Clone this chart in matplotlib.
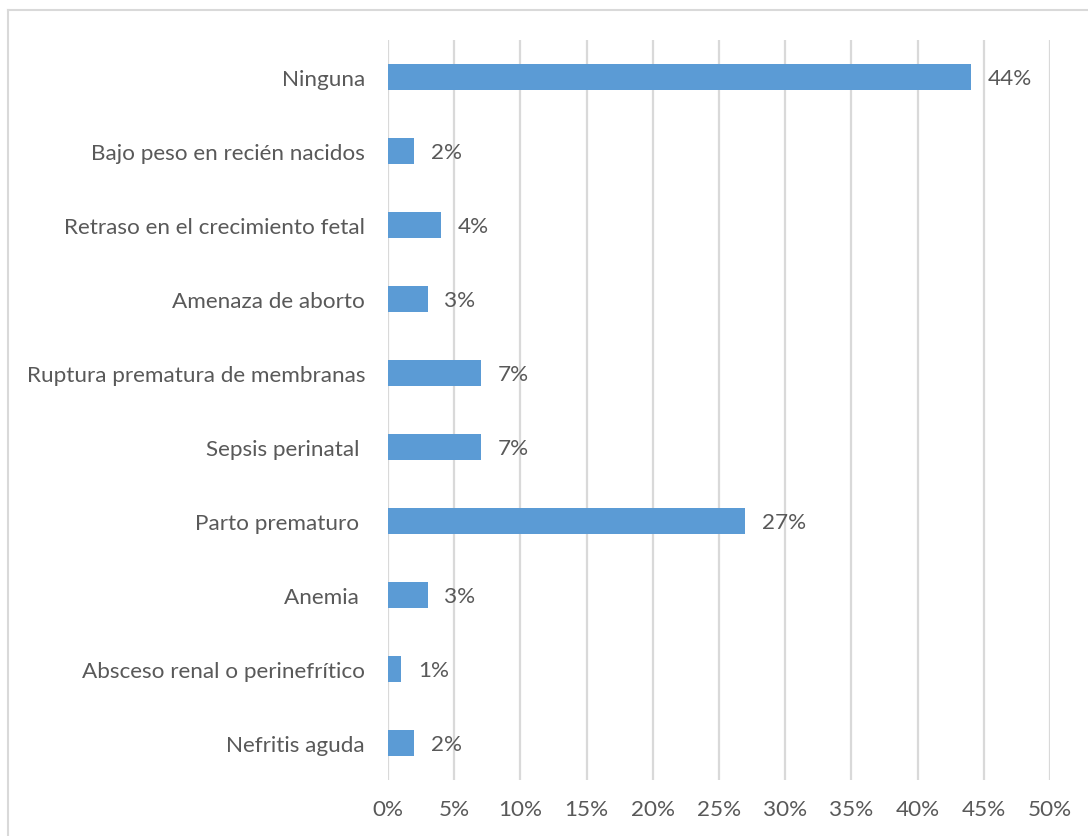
import matplotlib
matplotlib.use("Agg")
import matplotlib.pyplot as plt
from matplotlib.lines import Line2D
from matplotlib.ticker import FuncFormatter, MultipleLocator

categories = ["Ninguna", "Bajo peso en recién nacidos", "Retraso en el crecimiento fetal",
              "Amenaza de aborto", "Ruptura prematura de membranas", "Sepsis perinatal ",
              "Parto prematuro ", "Anemia ", "Absceso renal o perinefrítico", "Nefritis aguda"]
values = [44, 2, 4, 3, 7, 7, 27, 3, 1, 2]

plt.rcParams['font.family'] = ['Lato', 'DejaVu Sans']
text_color = "#595959"
bar_color = "#5B9BD5"
grid_color = "#D9D9D9"
fs = 16.2

fig = plt.figure(figsize=(10.88, 8.37), dpi=100)
ax = fig.add_axes([388/1088, 1-781/837, (1050-388)/1088, (781-41)/837])

y = list(range(len(categories)))
ax.barh(y, values, height=0.35, color=bar_color, zorder=3)
ax.set_ylim(len(categories)-0.5, -0.5)
ax.set_xlim(0, 50)
ax.xaxis.set_major_locator(MultipleLocator(5))
ax.xaxis.set_major_formatter(FuncFormatter(lambda v, p: f"{int(v)}%"))
ax.set_yticks(y)
ax.set_yticklabels(categories)
ax.grid(axis='x', color=grid_color, linewidth=1.6, zorder=0)
for s in ax.spines.values():
    s.set_visible(False)
ax.tick_params(axis='both', length=0, labelsize=fs, colors=text_color)
ax.tick_params(axis='y', pad=16.5)
ax.tick_params(axis='x', pad=14)

for yi, v in zip(y, values):
    ax.annotate(f"{v}%", xy=(v, yi), xytext=(12, -1), textcoords='offset points',
                ha='left', va='center', fontsize=fs, color=text_color)

fig.add_artist(Line2D([8/1088, 1], [1-11/837, 1-11/837], transform=fig.transFigure,
                      color=grid_color, linewidth=1.5))
fig.add_artist(Line2D([8/1088, 8/1088], [0, 1-11/837], transform=fig.transFigure,
                      color=grid_color, linewidth=1.5))

fig.savefig("out.png", dpi=100, facecolor="white")
